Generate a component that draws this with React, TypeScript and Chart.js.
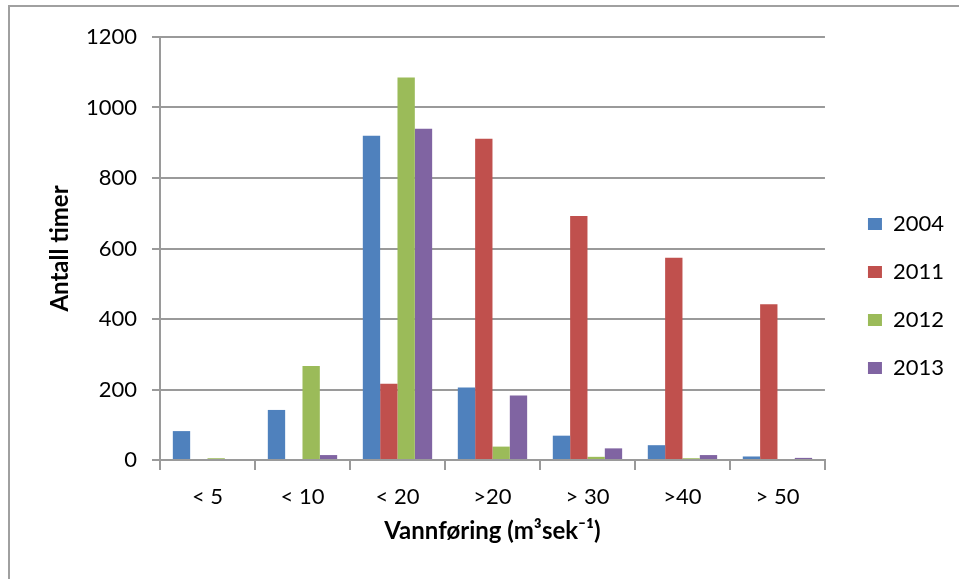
import React, { useEffect, useRef } from "react";
import { Chart, registerables } from "chart.js";

Chart.register(...registerables);

// Flow classes (m³/s) on the x axis
const categories = ["< 5", "< 10", "< 20", ">20", "> 30", ">40", "> 50"];

// Hours per flow class, one array per year
const years = ["2004", "2011", "2012", "2013"];
const hours2004 = [82, 142, 920, 206, 69, 42, 10];
const hours2011 = [0, 0, 216, 911, 692, 574, 442];
const hours2012 = [5, 267, 1085, 38, 9, 5, 0];
const hours2013 = [0, 14, 940, 183, 33, 14, 6];

const yMin = 0;
const yMax = 1200;
const yStep = 200;

const yTitle = "Antall timer";
const xTitle = "Vannføring (m³sek⁻¹)";

const colors = ["#4F81BD", "#C0504D", "#9BBB59", "#8064A2"];
const FONT = "Lato, 'Open Sans', 'DejaVu Sans', sans-serif";
const GRID = "#9a9a9a";

// Moves the legend block a little to the right of the plot and
// centres its entries vertically on the plot.
const legendNudge = {
  id: "legendNudge",
  afterLayout(chart: any) {
    const lg = chart.legend;
    if (!lg) return;
    const dx = chart.chartArea.right + 17 - lg.left;
    lg.left += dx;
    lg.right += dx;
    const dy = -12;
    lg.top += dy;
    lg.bottom += dy;
  },
};

export default function App() {
  const canvasRef = useRef<HTMLCanvasElement | null>(null);

  useEffect(() => {
    const canvas = canvasRef.current;
    if (!canvas) return;
    const series = [hours2004, hours2011, hours2012, hours2013];
    const chart = new Chart(canvas, {
      type: "bar",
      data: {
        labels: categories,
        datasets: series.map((values, i) => ({
          label: years[i],
          data: values,
          backgroundColor: colors[i],
          borderWidth: 0,
          categoryPercentage: 0.73,
          barPercentage: 1,
        })),
      },
      plugins: [legendNudge],
      options: {
        responsive: false,
        animation: false,
        layout: { padding: { top: 37, right: 22, bottom: 0, left: 0 } },
        plugins: {
          tooltip: { enabled: false },
          legend: {
            position: "right",
            labels: {
              boxWidth: 14,
              boxHeight: 12,
              padding: 26,
              color: "#000",
              font: { family: FONT, size: 22 },
            },
          },
        },
        scales: {
          x: {
            grid: {
              display: true,
              drawOnChartArea: false,
              drawTicks: true,
              tickLength: 10,
              color: GRID,
              lineWidth: 2,
              offset: true,
            },
            border: { display: true, color: GRID, width: 2 },
            ticks: {
              color: "#000",
              padding: 14,
              font: { family: FONT, size: 22 },
              maxRotation: 0,
            },
            title: {
              display: true,
              text: xTitle,
              color: "#000",
              font: { family: FONT, size: 24, weight: "bold" },
              padding: { top: 0, bottom: 33 },
            },
            afterFit(scale: any) {
              scale.height = 119;
            },
          },
          y: {
            min: yMin,
            max: yMax,
            grid: {
              color: GRID,
              lineWidth: 2,
              drawTicks: true,
              tickLength: 8,
            },
            border: { display: true, color: GRID, width: 2 },
            ticks: {
              stepSize: yStep,
              color: "#000",
              padding: 15,
              font: { family: FONT, size: 22 },
              callback: (value: any) => String(value),
            },
            title: {
              display: true,
              text: yTitle,
              color: "#000",
              font: { family: FONT, size: 24, weight: "bold" },
              padding: { top: 46, bottom: 0 },
            },
            afterFit(scale: any) {
              scale.width = 160;
            },
          },
        },
      },
    });
    return () => chart.destroy();
  }, []);

  return (
    <>
      <div
        style={{
          position: "fixed",
          left: 8,
          top: 5,
          width: 1200,
          height: 800,
          borderLeft: "2px solid #a0a0a0",
          borderTop: "2px solid #a0a0a0",
          boxSizing: "border-box",
        }}
      />
      <canvas
        ref={canvasRef}
        width={959}
        height={579}
        style={{ position: "fixed", left: 0, top: 0, display: "block" }}
      />
    </>
  );
}
